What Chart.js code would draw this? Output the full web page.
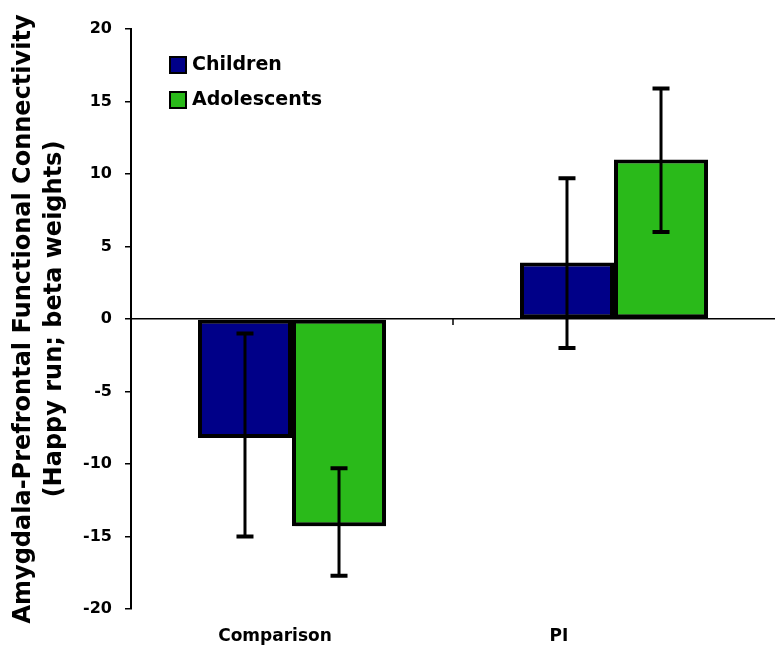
<!DOCTYPE html>
<html>
<head>
<meta charset="utf-8">
<script src="https://cdn.jsdelivr.net/npm/chart.js@4.4.1/dist/chart.umd.min.js"></script>
<style>
  html, body { margin: 0; padding: 0; background: #fff; }
  #wrap { width: 775px; height: 650px; }
</style>
</head>
<body>
<div id="wrap"><canvas id="grafico" width="775" height="650"></canvas></div>
<script>
/* dados */
const grupos = ['Comparison', 'PI'];
const nomesSeries = ['Children', 'Adolescents'];
const valoresChildren = [-8.2, 3.9];
const valoresAdolescents = [-14.3, 11.0];
const errChildrenSup = [-1.0, 9.7];
const errChildrenInf = [-15.0, -2.0];
const errAdolSup = [-10.3, 15.9];
const errAdolInf = [-17.7, 6.0];
const ticksY = [-20, -15, -10, -5, 0, 5, 10, 15, 20];
const tituloY = ['Amygdala-Prefrontal Functional Connectivity', '(Happy run; beta weights)'];

/* estilo */
const cores = { children: '#000088', adolescents: '#2aba1a', preto: '#000' };
const FONTE = "'DejaVu Sans', sans-serif";
const deslocRotulos = [-17, -55]; // rótulos do eixo x ficam à esquerda no original

const erros = [
    { sup: errChildrenSup, inf: errChildrenInf },
    { sup: errAdolSup, inf: errAdolInf }
];

// sombra leve atrás das barras
const sombraBarras = {
    id: 'sombraBarras',
    beforeDatasetsDraw(chart) {
        const ctx = chart.ctx;
        ctx.save();
        ctx.shadowColor = 'rgba(0,0,0,0.22)';
        ctx.shadowOffsetX = 3;
        ctx.shadowOffsetY = 3;
        ctx.shadowBlur = 2;
    },
    afterDatasetsDraw(chart) {
        chart.ctx.restore();
    }
};

// barras de erro
const barrasErro = {
    id: 'barrasErro',
    afterDatasetsDraw(chart) {
        const ctx = chart.ctx;
        const y = chart.scales.y;
        ctx.save();
        ctx.strokeStyle = cores.preto;
        erros.forEach((e, d) => {
            chart.getDatasetMeta(d).data.forEach((bar, i) => {
                const yS = y.getPixelForValue(e.sup[i]);
                const yI = y.getPixelForValue(e.inf[i]);
                ctx.lineWidth = 3;
                ctx.beginPath();
                ctx.moveTo(bar.x, yS);
                ctx.lineTo(bar.x, yI);
                ctx.stroke();
                ctx.lineWidth = 4;
                ctx.beginPath();
                ctx.moveTo(bar.x - 8.5, yS);
                ctx.lineTo(bar.x + 8.5, yS);
                ctx.moveTo(bar.x - 8.5, yI);
                ctx.lineTo(bar.x + 8.5, yI);
                ctx.stroke();
            });
        });
        ctx.restore();
    }
};

// legenda, rótulos das categorias e marca do eixo x
const extras = {
    id: 'extras',
    afterDraw(chart) {
        const ctx = chart.ctx;
        const area = chart.chartArea;
        const x = chart.scales.x;
        const y = chart.scales.y;
        ctx.save();

        // legenda
        const coresSeries = [cores.children, cores.adolescents];
        ctx.font = 'bold 19px ' + FONTE;
        ctx.textBaseline = 'middle';
        ctx.textAlign = 'left';
        nomesSeries.forEach((nome, i) => {
            const bx = area.left + 39;
            const by = area.top + 28 + i * 35;
            ctx.fillStyle = coresSeries[i];
            ctx.fillRect(bx, by, 16, 16);
            ctx.lineWidth = 2;
            ctx.strokeStyle = cores.preto;
            ctx.strokeRect(bx, by, 16, 16);
            ctx.fillStyle = cores.preto;
            ctx.fillText(nome, bx + 22, by + 8);
        });

        // rótulos do eixo x
        ctx.font = 'bold 17px ' + FONTE;
        ctx.textAlign = 'center';
        grupos.forEach((g, i) => {
            ctx.fillText(g, x.getPixelForValue(i) + deslocRotulos[i], area.bottom + 28);
        });

        // marca entre categorias no zero
        const xm = (x.getPixelForValue(0) + x.getPixelForValue(1)) / 2;
        const y0 = y.getPixelForValue(0);
        ctx.lineWidth = 1.5;
        ctx.beginPath();
        ctx.moveTo(xm, y0);
        ctx.lineTo(xm, y0 + 6);
        ctx.stroke();
        ctx.restore();
    }
};

new Chart(document.getElementById('grafico'), {
    type: 'bar',
    data: {
        labels: grupos,
        datasets: [
            { label: nomesSeries[0], data: valoresChildren, backgroundColor: cores.children },
            { label: nomesSeries[1], data: valoresAdolescents, backgroundColor: cores.adolescents }
        ]
    },
    options: {
        responsive: false,
        animation: false,
        layout: { padding: { top: 29, bottom: 41, left: 0, right: 0 } },
        datasets: {
            bar: {
                borderColor: cores.preto,
                borderWidth: 4,
                borderSkipped: false,
                barPercentage: 1,
                categoryPercentage: 0.584
            }
        },
        plugins: {
            legend: { display: false },
            tooltip: { enabled: false }
        },
        scales: {
            x: { display: false },
            y: {
                min: -20,
                max: 20,
                afterBuildTicks: s => { s.ticks = ticksY.map(v => ({ value: v })); },
                afterFit: s => { s.width = 131; },
                border: { display: true, color: cores.preto, width: 2 },
                grid: {
                    color: c => (c.tick && c.tick.value === 0) ? cores.preto : 'rgba(0,0,0,0)',
                    lineWidth: 1.5,
                    tickColor: cores.preto,
                    tickLength: 6,
                    tickWidth: 1.5
                },
                ticks: {
                    color: cores.preto,
                    padding: 13,
                    font: { family: FONTE, weight: 'bold', size: 16 }
                },
                title: {
                    display: true,
                    text: tituloY,
                    color: cores.preto,
                    font: { family: FONTE, weight: 'bold', size: 24, lineHeight: 1.3 },
                    padding: { top: 8, bottom: 0 }
                }
            }
        }
    },
    plugins: [sombraBarras, barrasErro, extras]
});
</script>
</body>
</html>
